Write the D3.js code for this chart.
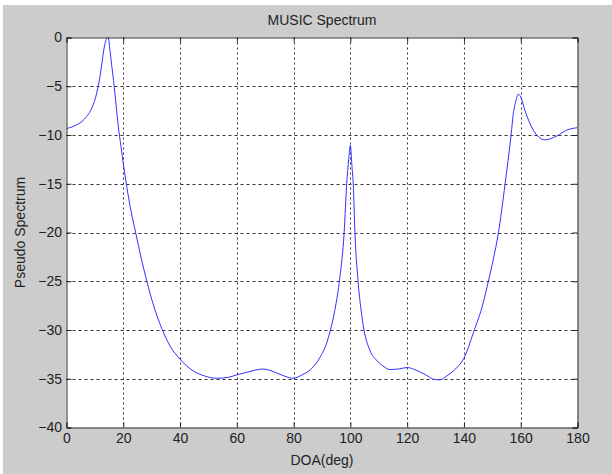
<!DOCTYPE html>
<html><head><meta charset="utf-8">
<script src="https://cdn.jsdelivr.net/npm/d3@7"></script>
<style>body{margin:0;background:#fff}svg{display:block}</style>
</head><body>
<script>
const doa = [0,2,3.6,5.5,7.1,8.5,9.4,10.3,11,11.8,12.4,13.3,14,14.7,15.3,15.9,16.8,17.5,18.2,19.2,20,20.8,22.4,24.5,26.3,28.2,30.8,33.5,36.4,40,44.7,48.5,52.9,57,60,64,69.3,74,77,79.9,83,85.8,88,89.3,91.7,92.8,94.5,96.3,97.8,98.7,99.4,100,100.5,101,101.6,102.7,103.7,104.8,106.9,109.2,111.5,113.9,117,120,123,126.5,130,131.6,134,137,140,143.3,146.8,148.6,150.3,152.1,154.5,156.6,157.4,158.3,159.1,160,161.5,163.3,165.6,168.5,172.7,176.2,180];
const spectrum = [-9.33,-9.17,-8.95,-8.6,-8.1,-7.5,-6.9,-6.1,-5.2,-4.0,-2.8,-1.0,-0.2,0,-1.3,-2.8,-5.0,-7.0,-9.0,-11.2,-12.9,-14.5,-17.3,-20.2,-22.6,-24.9,-27.6,-29.8,-31.6,-33.0,-34.2,-34.7,-34.95,-34.85,-34.6,-34.3,-34.0,-34.4,-34.75,-34.95,-34.6,-34.1,-33.4,-32.8,-31.3,-30.2,-28.0,-24.6,-20.0,-15.0,-12.5,-11.05,-13,-15,-20,-25,-27.8,-30,-32.1,-33.1,-33.7,-34.05,-34.0,-33.85,-34.1,-34.6,-35.1,-35.1,-34.7,-34.0,-32.9,-30.3,-27.2,-25.0,-22.8,-20.1,-15.0,-10.0,-7.8,-6.5,-5.8,-6.1,-7.5,-8.85,-10.0,-10.5,-10.1,-9.5,-9.25];
const xTicks = [0,20,40,60,80,100,120,140,160,180];
const yTicks = [0,-5,-10,-15,-20,-25,-30,-35,-40];
const titleText = "MUSIC Spectrum";
const xLabel = "DOA(deg)";
const yLabel = "Pseudo Spectrum";

const W = 612, H = 474;
const L = 66.5, R = 577.5, T = 37.5, B = 427.5;
const svg = d3.select("body").append("svg").attr("width", W).attr("height", H);
svg.append("rect").attr("x", 3).attr("y", 5).attr("width", W - 3).attr("height", H - 5).attr("fill", "#cccccc");

const x = d3.scaleLinear().domain([0, 180]).range([L, R]);
const y = d3.scaleLinear().domain([-40, 0]).range([B, T]);

svg.append("rect").attr("x", L).attr("y", T).attr("width", R - L).attr("height", B - T).attr("fill", "#fff");

const font = "Liberation Sans, Arial, sans-serif";
const fs = 14;
// grid
const g = svg.append("g");
g.selectAll("line.vx").data(xTicks.slice(1, -1)).join("line")
  .attr("x1", d => Math.round(x(d)) + 0.5).attr("x2", d => Math.round(x(d)) + 0.5)
  .attr("y1", T).attr("y2", B).attr("stroke", "#333").attr("stroke-width", 1).attr("stroke-dasharray", "2,3");
g.selectAll("line.hy").data(yTicks.slice(1, -1)).join("line")
  .attr("y1", d => Math.round(y(d)) + 0.5).attr("y2", d => Math.round(y(d)) + 0.5)
  .attr("x1", L).attr("x2", R).attr("stroke", "#333").attr("stroke-width", 1).attr("stroke-dasharray", "3,3");

// curve
const line = d3.line().x((d, i) => x(doa[i])).y(d => y(d)).curve(d3.curveMonotoneX);
svg.append("defs").append("clipPath").attr("id", "clip").append("rect")
  .attr("x", L).attr("y", T - 1).attr("width", R - L).attr("height", B - T + 1);
svg.append("path").datum(spectrum).attr("d", line).attr("fill", "none")
  .attr("stroke", "#3030ff").attr("stroke-width", 1).attr("clip-path", "url(#clip)");

// axes with inward ticks
const ax = d3.axisBottom(x).tickValues(xTicks).tickSize(-5).tickPadding(6).tickFormat(d3.format("d"));
const axT = d3.axisTop(x).tickValues(xTicks).tickSize(-5).tickFormat("");
const ay = d3.axisLeft(y).tickValues(yTicks).tickSize(-5).tickPadding(4.5).tickFormat(d3.format("d"));
const ayR = d3.axisRight(y).tickValues(yTicks).tickSize(-5).tickFormat("");
function style(sel) {
  sel.selectAll("path").attr("stroke", "#222");
  sel.selectAll("line").attr("stroke", "#222");
  sel.selectAll("text").attr("font-family", font).attr("font-size", fs).attr("fill", "#222");
}
svg.append("g").attr("transform", `translate(0,${B})`).call(ax).call(style);
svg.append("g").attr("transform", `translate(0,${T})`).call(axT).call(style);
svg.append("g").attr("transform", `translate(${L},0)`).call(ay).call(style);
svg.append("g").attr("transform", `translate(${R},0)`).call(ayR).call(style);
svg.selectAll(".domain").attr("stroke", "#333");

svg.append("text").attr("x", (L + R) / 2).attr("y", 25).attr("text-anchor", "middle")
  .attr("font-family", font).attr("font-size", fs).attr("fill", "#222").text(titleText);
svg.append("text").attr("x", (L + R) / 2).attr("y", 465).attr("text-anchor", "middle")
  .attr("font-family", font).attr("font-size", fs).attr("fill", "#222").text(xLabel);
svg.append("text").attr("transform", `translate(25,${(T + B) / 2}) rotate(-90)`).attr("text-anchor", "middle")
  .attr("font-family", font).attr("font-size", fs).attr("fill", "#222").text(yLabel);
</script>
</body></html>
